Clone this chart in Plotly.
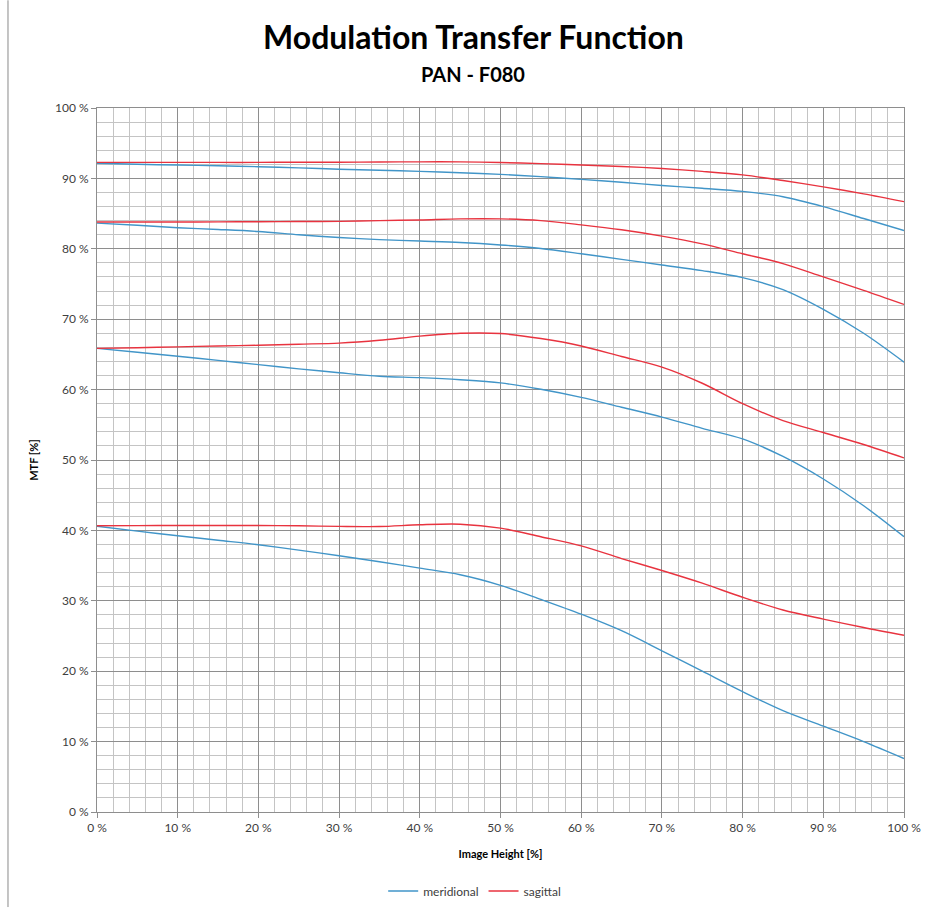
import plotly.graph_objects as go

# Image height [%]
x_pct = [0, 5, 10, 15, 20, 25, 30, 35, 40, 45, 50, 55, 60, 65, 70, 75, 80, 85, 90, 95, 100]

sag_1 = [92.27, 92.27, 92.27, 92.27, 92.27, 92.3, 92.3, 92.33, 92.35, 92.35, 92.25, 92.1, 91.9, 91.7, 91.4, 91.0, 90.5, 89.7, 88.8, 87.8, 86.7]
mer_1 = [92.15, 92.0, 91.9, 91.8, 91.66, 91.5, 91.3, 91.15, 91.0, 90.8, 90.57, 90.25, 89.86, 89.45, 89.0, 88.6, 88.15, 87.4, 86.0, 84.3, 82.6]
sag_2 = [83.8, 83.8, 83.8, 83.82, 83.85, 83.87, 83.9, 84.0, 84.1, 84.25, 84.25, 84.0, 83.4, 82.7, 81.8, 80.7, 79.3, 77.9, 76.0, 74.1, 72.1]
mer_2 = [83.65, 83.35, 83.0, 82.75, 82.46, 82.0, 81.6, 81.3, 81.1, 80.9, 80.55, 80.05, 79.3, 78.5, 77.7, 76.9, 75.9, 74.2, 71.4, 68.0, 63.9]
sag_3 = [65.85, 65.95, 66.07, 66.2, 66.3, 66.45, 66.6, 67.0, 67.6, 68.0, 67.96, 67.25, 66.2, 64.7, 63.2, 60.9, 58.0, 55.6, 53.9, 52.2, 50.3]
mer_3 = [65.85, 65.3, 64.74, 64.15, 63.55, 62.95, 62.4, 61.9, 61.7, 61.4, 60.95, 60.05, 58.9, 57.5, 56.1, 54.5, 53.0, 50.5, 47.3, 43.5, 39.1]
sag_4 = [40.66, 40.68, 40.7, 40.7, 40.7, 40.65, 40.57, 40.55, 40.8, 40.88, 40.33, 39.1, 37.8, 36.0, 34.3, 32.5, 30.5, 28.7, 27.4, 26.2, 25.1]
mer_4 = [40.6, 39.9, 39.24, 38.6, 37.96, 37.2, 36.4, 35.55, 34.64, 33.7, 32.2, 30.2, 28.1, 25.75, 22.9, 20.0, 17.1, 14.4, 12.2, 10.0, 7.6]

meridional = [mer_1, mer_2, mer_3, mer_4]
sagittal = [sag_1, sag_2, sag_3, sag_4]

x_ticks = [0, 10, 20, 30, 40, 50, 60, 70, 80, 90, 100]
x_tick_labels = ["0 %", "10 %", "20 %", "30 %", "40 %", "50 %", "60 %", "70 %", "80 %", "90 %", "100 %"]
y_ticks = [0, 10, 20, 30, 40, 50, 60, 70, 80, 90, 100]
y_tick_labels = ["0 %", "10 %", "20 %", "30 %", "40 %", "50 %", "60 %", "70 %", "80 %", "90 %", "100 %"]

BLUE = "#4195c8"
RED = "#e8333f"
FONT = "Lato"

fig = go.Figure()
for i, ys in enumerate(meridional):
    fig.add_trace(go.Scatter(x=x_pct, y=ys, mode="lines", name="meridional",
                             line=dict(color=BLUE, width=1.4, shape="spline", smoothing=0.9),
                             legendgroup="m", showlegend=(i == 0)))
for i, ys in enumerate(sagittal):
    fig.add_trace(go.Scatter(x=x_pct, y=ys, mode="lines", name="sagittal",
                             line=dict(color=RED, width=1.4, shape="spline", smoothing=0.9),
                             legendgroup="s", showlegend=(i == 0)))

axis_common = dict(
    showgrid=True, gridcolor="#8e8e8e", gridwidth=1,
    showline=True, linecolor="#8e8e8e", linewidth=1,
    ticks="outside", ticklen=5, tickcolor="#8e8e8e",
    zeroline=False, automargin=False,
    tickfont=dict(family=FONT, size=12, color="#404040"),
    minor=dict(dtick=2, showgrid=True, gridcolor="#c4c4c4", gridwidth=1, ticks=""),
)

fig.update_layout(
    width=925, height=909,
    margin=dict(l=97, r=21, t=108, b=97),
    paper_bgcolor="white", plot_bgcolor="white",
    font=dict(family=FONT, color="#000000"),
    xaxis=dict(range=[0, 100], tickmode="array", tickvals=x_ticks, ticktext=x_tick_labels,
               mirror=True, **axis_common,
               title=dict(text="<b>Image Height [%]</b>", font=dict(family=FONT, size=11, color="#000"), standoff=15)),
    yaxis=dict(range=[0, 100], tickmode="array", tickvals=y_ticks, ticktext=y_tick_labels,
               mirror=True, **axis_common,
               title=dict(text="<b>MTF [%]</b>", font=dict(family=FONT, size=11, color="#000"), standoff=14)),
    legend=dict(orientation="h", x=0.468, xanchor="center", xref="paper",
                y=0.0198, yanchor="middle", yref="container",
                font=dict(family=FONT, size=12, color="#404040"), itemwidth=30,
                bgcolor="rgba(0,0,0,0)"),
    annotations=[
        dict(text="<b>Modulation Transfer Function</b>", xref="paper", yref="paper",
             x=0.466, y=1.1022, xanchor="center", yanchor="middle", showarrow=False,
             font=dict(family=FONT, size=32, color="#000")),
        dict(text="<b>PAN - F080</b>", xref="paper", yref="paper",
             x=0.466, y=1.048, xanchor="center", yanchor="middle", showarrow=False,
             font=dict(family=FONT, size=20, color="#000")),
    ],
    shapes=[dict(type="line", xref="paper", yref="paper", x0=-0.1103, x1=-0.1103,
                 y0=-0.135, y1=1.153, line=dict(color="#8a8a8a", width=1))],
)

fig.write_html("out.html", config={"displayModeBar": False},
               post_script="document.body.style.margin='0';")
